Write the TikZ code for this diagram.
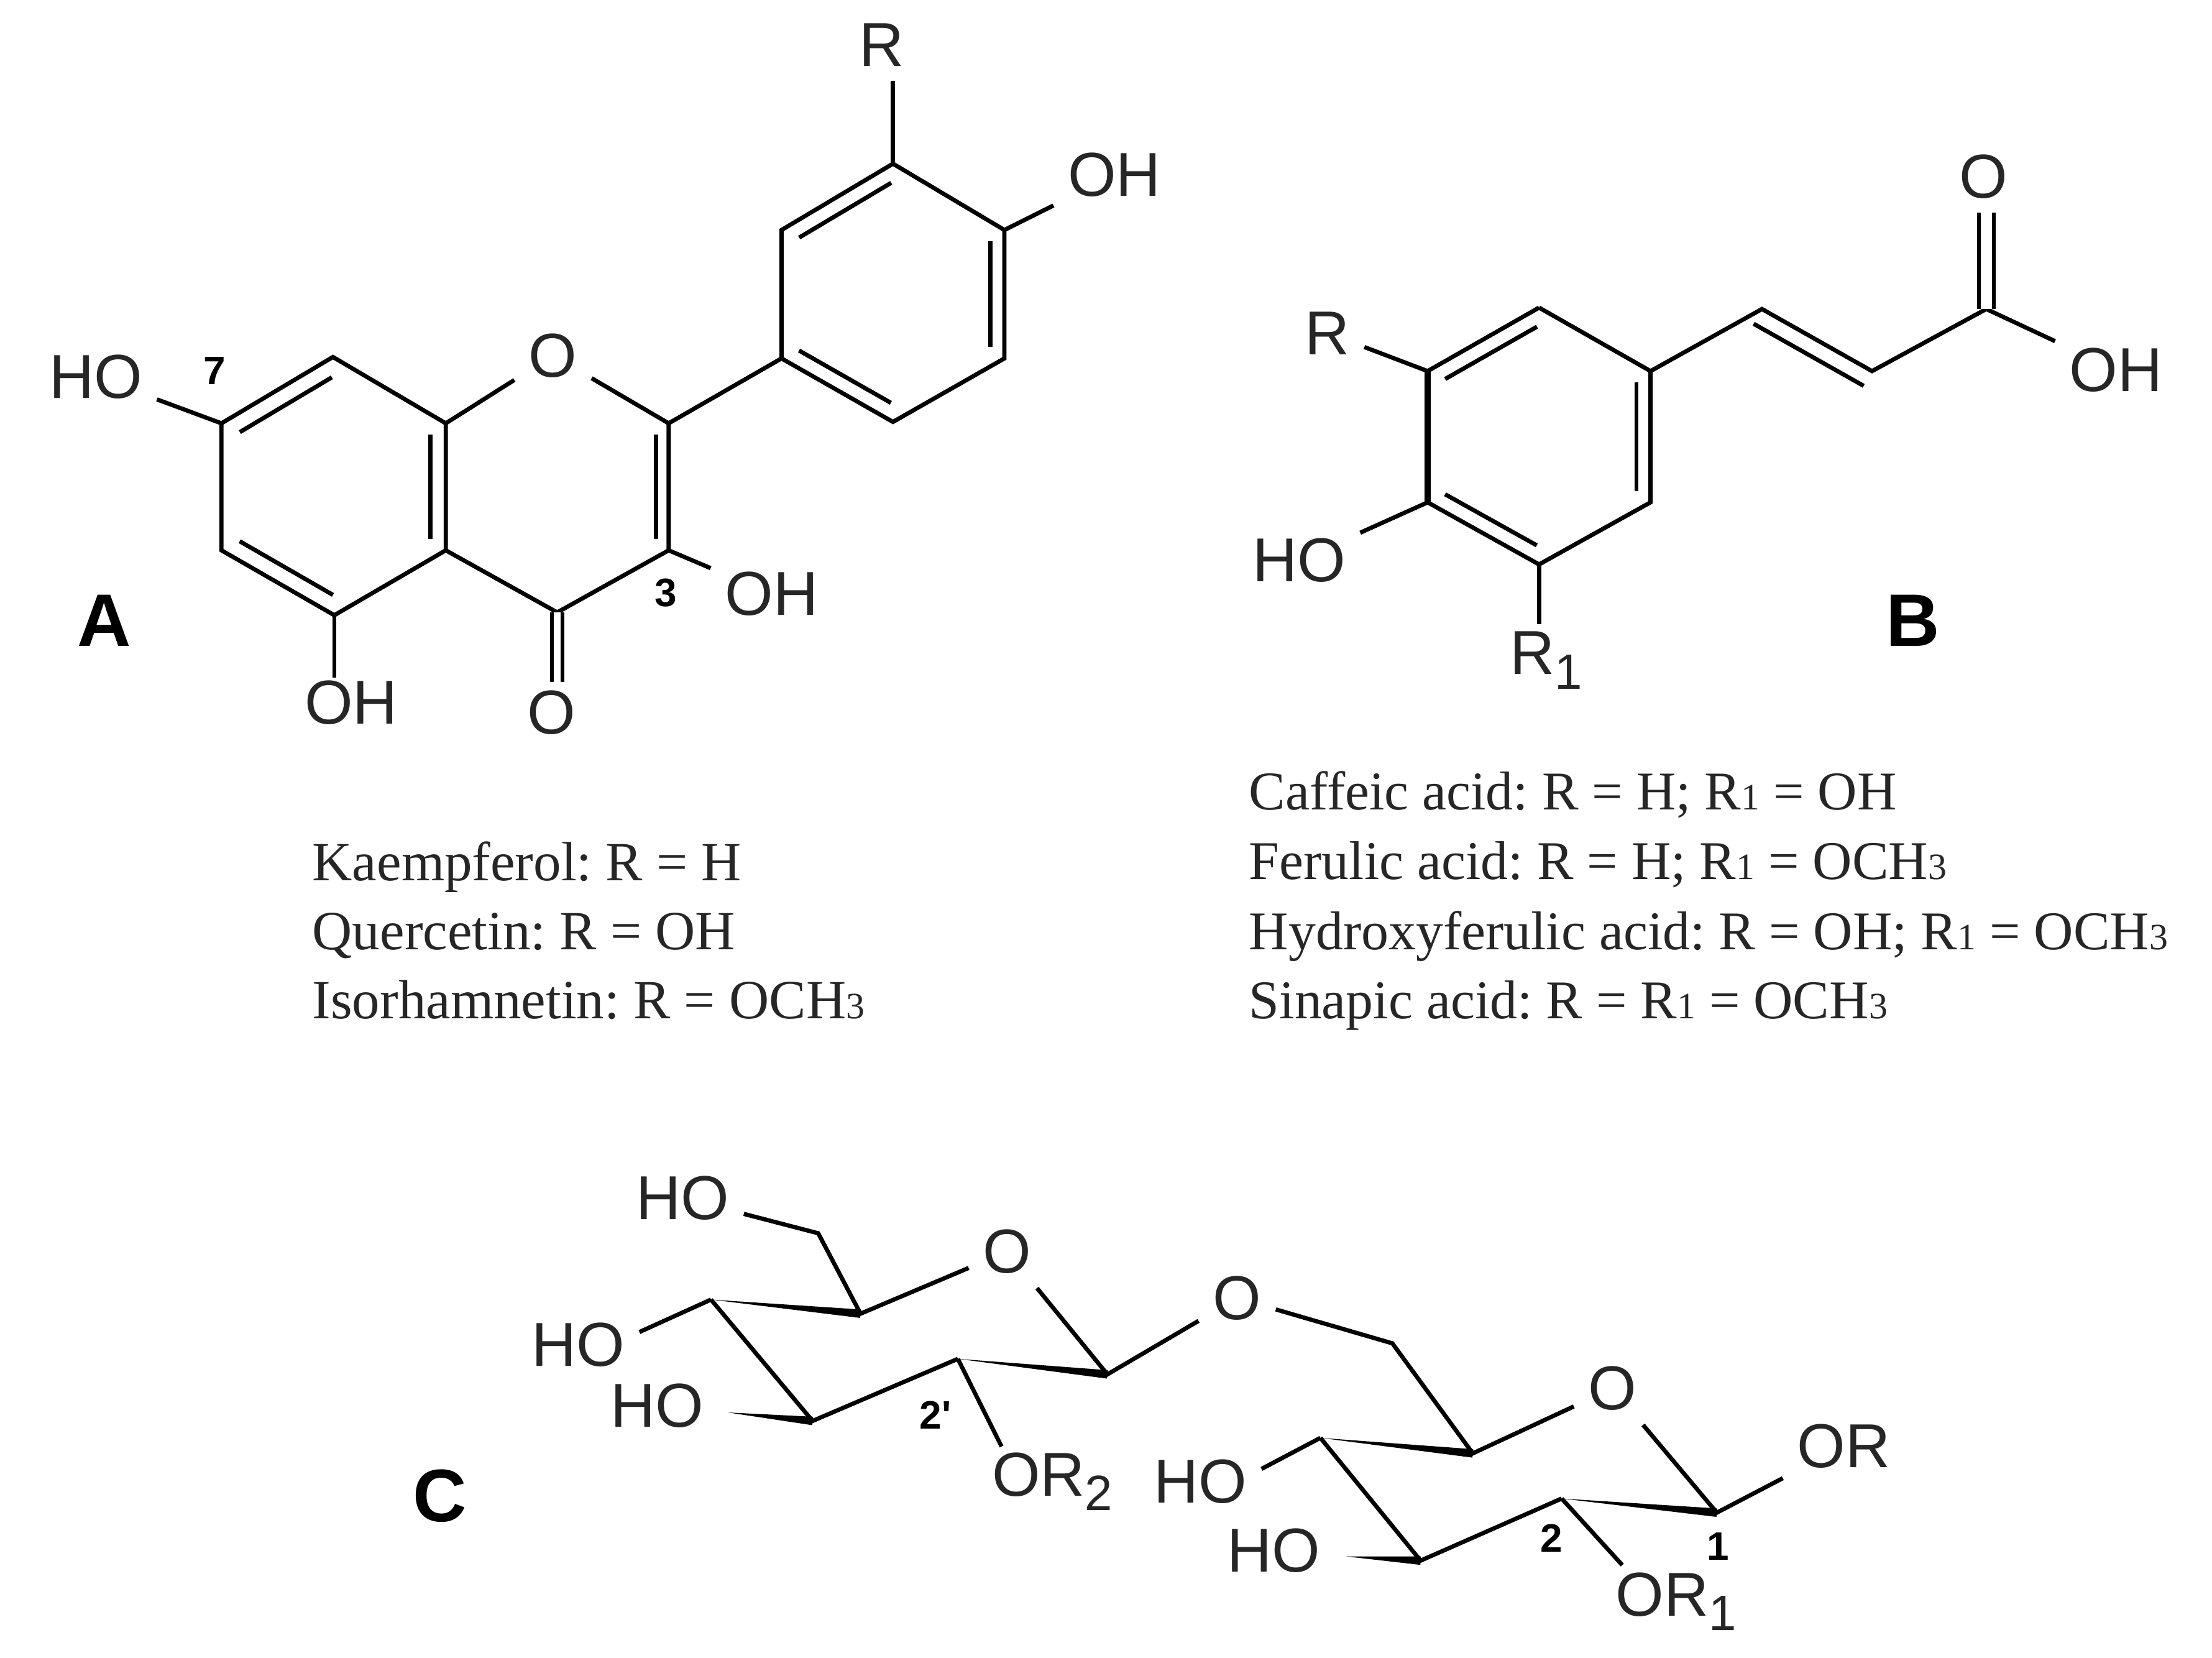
\documentclass[tikz,border=0pt]{standalone}
\usepackage{fontspec}
\setmainfont{Liberation Serif}
\newfontfamily\chemfont{Liberation Sans}
\usetikzlibrary{calc}
\frenchspacing

\newcommand{\innerbond}[3]{\draw ($(#1)!#3!-90:(#2)$) -- ($(#2)!#3!90:(#1)$) ;}
\newcommand{\wedgebond}[2]{\fill (#1) -- ($(#2)!.03cm!90:(#1)$) -- ($(#2)!.03cm!-90:(#1)$) -- cycle ;}
\newcommand{\atomsub}[1]{\raisebox{-.45ex}{\fontsize{10}{10}\selectfont #1}}
\newcommand{\textsmall}[1]{{\fontsize{7.5}{8}\selectfont #1}}

\begin{document}
\begin{tikzpicture}[x=0.01cm,y=-0.01cm,line width=0.85pt]

\tikzstyle{atom}=[text=black!85,inner sep=2.5pt,font=\chemfont\fontsize{12.5}{14}\selectfont]
\tikzstyle{panel}=[inner sep=0pt,font=\chemfont\bfseries\fontsize{15}{16}\selectfont]
\tikzstyle{locant}=[inner sep=0pt,font=\chemfont\bfseries\fontsize{8}{9}\selectfont]
\tikzstyle{namelist}=[anchor=base west,inner sep=0pt,text=black!85,font=\fontsize{11.15}{13}\selectfont]
\tikzstyle{acidlist}=[namelist,font=\fontsize{11}{13}\selectfont]
\tikzstyle{inner}=[shorten <=.08cm,shorten >=.08cm]
\tikzstyle{carbonyl}=[double,line width=.75pt]

\useasboundingbox (0,0) rectangle (1568,1175) ;

\coordinate (b1) at (633,116) ;
\coordinate (b2) at (712,163) ;
\coordinate (b3) at (712,254) ;
\coordinate (b4) at (633,299) ;
\coordinate (b5) at (554,254) ;
\coordinate (b6) at (554,163) ;
\coordinate (c2) at (474,300) ;
\coordinate (c3) at (474,390) ;
\coordinate (c4) at (395,434) ;
\coordinate (c4a) at (316,390) ;
\coordinate (c5) at (237,436) ;
\coordinate (c6) at (157,390) ;
\coordinate (c7) at (157,300) ;
\coordinate (c8) at (236,253) ;
\coordinate (c8a) at (316,300) ;

\draw (625,32) node (rA) [atom] {R} ;
\draw (790,124) node (ohB) [atom] {OH} ;
\draw (392,252) node (oA) [atom] {O} ;
\draw (68,267) node (ho7) [atom] {HO} ;
\draw (547,421) node (oh3) [atom] {OH} ;
\draw (249,498) node (oh5) [atom] {OH} ;
\draw (391,505) node (o4) [atom] {O} ;
\draw (152,263) node (num7) [locant] {7} ;
\draw (472,420) node (num3) [locant] {3} ;
\draw (74,440) node (panelA) [panel] {A} ;

\draw (b1) -- (b2) -- (b3) -- (b4) -- (b5) -- (b6) -- cycle ;
\draw (c2) -- (c3) -- (c4) -- (c4a) -- (c5) -- (c6) -- (c7) -- (c8) -- (c8a) -- (c4a) ;
\draw (c8a) -- (oA) ;
\draw (c2) -- (oA) ;
\draw (c2) -- (b5) ;
\draw (b1) -- (b1 |- rA.south) ;
\draw (b2) -- (ohB) ;
\draw (c7) -- (ho7) ;
\draw (c3) -- (oh3) ;
\draw (c5) -- ([yshift=-.08cm]c5 |- oh5.north) ;
\draw[carbonyl,double distance=.05cm] (c4) -- ([yshift=-.04cm]c4 |- o4.north) ;
\begin{scope}[inner]
\innerbond{b6}{b1}{.11cm}
\innerbond{b2}{b3}{.10cm}
\innerbond{b4}{b5}{.11cm}
\innerbond{c7}{c8}{.12cm}
\innerbond{c8a}{c4a}{.11cm}
\innerbond{c5}{c6}{.12cm}
\innerbond{c2}{c3}{.09cm}
\end{scope}

\draw (220,624) node (kaem) [namelist] {Kaempferol: R = H} ;
\draw (220,673) node (quer) [namelist] {Quercetin: R = OH} ;
\draw (220,722) node (isor) [namelist] {Isorhamnetin: R = OCH\textsmall{3}} ;

\coordinate (d1) at (1091,218) ;
\coordinate (d2) at (1170,263) ;
\coordinate (d3) at (1170,356) ;
\coordinate (d4) at (1091,400) ;
\coordinate (d5) at (1012,356) ;
\coordinate (d6) at (1012,263) ;
\coordinate (e1) at (1249,219) ;
\coordinate (e2) at (1327,263) ;
\coordinate (e3) at (1408,219) ;

\draw (1406,125) node (oB) [atom] {O} ;
\draw (1500,262) node (ohacid) [atom] {OH} ;
\draw (941,236) node (rB) [atom] {R} ;
\draw (921,397) node (hoB) [atom] {HO} ;
\draw (1096,468) node (r1B) [atom] {R\atomsub{1}} ;
\draw (1356,440) node (panelB) [panel] {B} ;

\draw (d1) -- (d2) -- (d3) -- (d4) -- (d5) ;
\draw (d6) -- (d1) ;
\draw[line width=1.3pt] (d5) -- (d6) ;
\draw (d2) -- (e1) -- (e2) -- (e3) -- (ohacid) ;
\draw (d6) -- (rB) ;
\draw (d5) -- (hoB) ;
\draw (d4) -- ([yshift=-.05cm]d4 |- r1B.north) ;
\draw[carbonyl,double distance=.08cm] (e3) -- (e3 |- oB.south) ;
\begin{scope}[inner]
\innerbond{d6}{d1}{.11cm}
\innerbond{d2}{d3}{.10cm}
\innerbond{d4}{d5}{.11cm}
\end{scope}
\draw ($(e1)!.12cm!-90:(e2)$) -- ($(e2)!.12cm!90:(e1)$) ;

\draw (884,574) node (caff) [acidlist] {Caffeic acid: R = H; R\textsmall{1} = OH} ;
\draw (884,623) node (feru) [acidlist] {Ferulic acid: R = H; R\textsmall{1} = OCH\textsmall{3}} ;
\draw (884,673) node (hydr) [acidlist] {Hydroxyferulic acid: R = OH; R\textsmall{1} = OCH\textsmall{3}} ;
\draw (884,722) node (sina) [acidlist] {Sinapic acid: R = R\textsmall{1} = OCH\textsmall{3}} ;

\coordinate (g1) at (785,974) ;
\coordinate (g2) at (679,963) ;
\coordinate (g3) at (576,1007) ;
\coordinate (g4) at (504,921) ;
\coordinate (g5) at (610,931) ;
\coordinate (g6) at (580,874) ;
\coordinate (w3) at (516,1001) ;
\coordinate (h1) at (1217,1072) ;
\coordinate (h2) at (1107,1062) ;
\coordinate (h3) at (1007,1106) ;
\coordinate (h4) at (936,1019) ;
\coordinate (h5) at (1044,1030) ;
\coordinate (h6) at (987,952) ;
\coordinate (w3b) at (954,1103) ;

\draw (484,849) node (ho6) [atom] {HO} ;
\draw (714,887) node (og) [atom] {O} ;
\draw (410,953) node (ho4) [atom] {HO} ;
\draw (466,996) node (ho3) [atom] {HO} ;
\draw (746,1050) node (or2) [atom] {OR\atomsub{2}} ;
\draw (877,920) node (olink) [atom] {O} ;
\draw (1143,984) node (oh) [atom] {O} ;
\draw (851,1050) node (ho4b) [atom] {HO} ;
\draw (903,1099) node (ho3b) [atom] {HO} ;
\draw (1307,1025) node (orC) [atom] {OR} ;
\draw (1188,1135) node (or1) [atom] {OR\atomsub{1}} ;
\draw (663,1003) node (num2p) [locant] {2'} ;
\draw (1100,1090) node (num2) [locant] {2} ;
\draw (1218,1096) node (num1) [locant] {1} ;
\draw (312,1060) node (panelC) [panel] {C} ;

\draw (ho6) -- (g6) -- (g5) -- (og) -- (g1) -- (olink) -- (h6) -- (h5) -- (oh) -- (h1) -- (orC) ;
\draw (g2) -- (g3) -- (g4) ;
\draw ([yshift=.09cm]ho4.east) -- (g4) ;
\draw (g2) -- ([xshift=.17cm,yshift=-.06cm]or2.north west) ;
\draw (h2) -- (h3) -- (h4) ;
\draw ([yshift=.09cm]ho4b.east) -- (h4) ;
\draw (h2) -- ([xshift=.15cm,yshift=-.05cm]or1.north west) ;
\wedgebond{g4}{g5}
\wedgebond{g2}{g1}
\wedgebond{w3}{g3}
\wedgebond{h4}{h5}
\wedgebond{h2}{h1}
\wedgebond{w3b}{h3}

\end{tikzpicture}
\end{document}
